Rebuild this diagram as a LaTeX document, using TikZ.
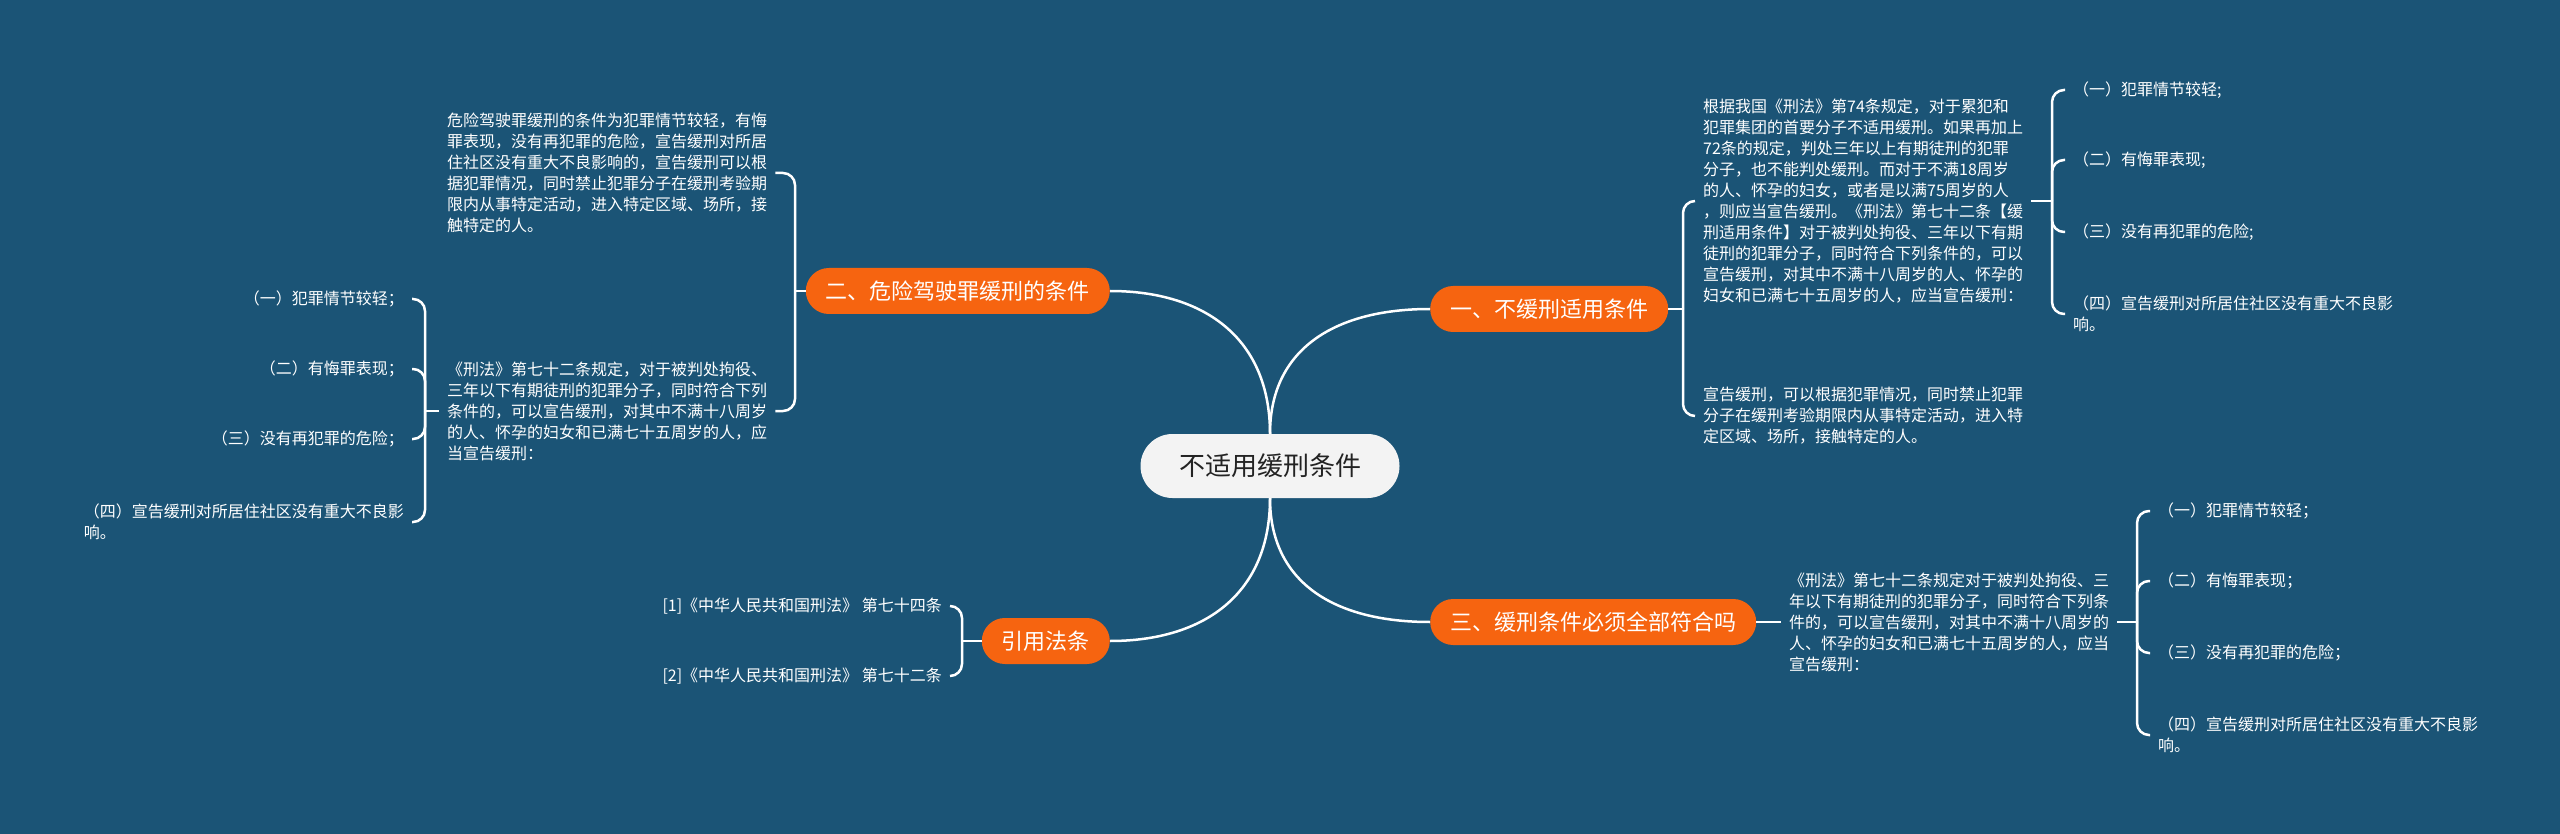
\documentclass[tikz,border=0pt]{standalone}
\usepackage{fontspec}
\setmainfont{Noto Sans CJK SC}
\definecolor{bgcol}{RGB}{27,84,118}
\definecolor{orangenode}{RGB}{246,100,16}
\definecolor{rootfill}{RGB}{243,243,243}
\definecolor{roottext}{RGB}{35,35,35}
\begin{document}
\begin{tikzpicture}[x=1pt,y=-1pt,
  conn/.style={draw=white, line width=2.5pt},
  brace/.style={draw=white, line width=2.5pt, rounded corners=12pt},
  root/.style={fill=rootfill, text=roottext, rounded corners=32pt, minimum height=64pt, minimum width=259pt, inner sep=0pt, font=\fontsize{26}{31}\selectfont},
  branch/.style={fill=orangenode, text=white, rounded corners=23pt, minimum height=46pt, inner xsep=20pt, inner ysep=0pt, font=\fontsize{22}{26}\selectfont},
  leaf/.style={text=white, inner xsep=8pt, inner ysep=0pt, align=left, font=\fontsize{16}{21}\selectfont},
]
\fill[bgcol] (0,0) rectangle (2560,834);
\useasboundingbox (0,0) rectangle (2560,834);

% root and branches
\node[root] (c) at (1270,466) {不适用缓刑条件};
\node[branch, anchor=west] (b1) at (1430,309) {一、不缓刑适用条件};
\node[branch, anchor=east] (b2) at (1110,291) {二、危险驾驶罪缓刑的条件};
\node[branch, anchor=west] (b3) at (1430,622) {三、缓刑条件必须全部符合吗};
\node[branch, anchor=east] (b4) at (1110,641) {引用法条};

\draw[conn] (c.north) .. controls +(0,-85) and +(-95,0) .. (b1.west);
\draw[conn] (c.north) .. controls +(0,-95) and +(95,0) .. (b2.east);
\draw[conn] (c.south) .. controls +(0,85) and +(-95,0) .. (b3.west);
\draw[conn] (c.south) .. controls +(0,95) and +(95,0) .. (b4.east);

% ---------- branch 1 ----------
\node[leaf, anchor=west] (t1) at (1695,201) {根据我国《刑法》第74条规定，对于累犯和\\犯罪集团的首要分子不适用缓刑。如果再加上\\72条的规定，判处三年以上有期徒刑的犯罪\\分子，也不能判处缓刑。而对于不满18周岁\\的人、怀孕的妇女，或者是以满75周岁的人\\，则应当宣告缓刑。《刑法》第七十二条【缓\\刑适用条件】对于被判处拘役、三年以下有期\\徒刑的犯罪分子，同时符合下列条件的，可以\\宣告缓刑，对其中不满十八周岁的人、怀孕的\\妇女和已满七十五周岁的人，应当宣告缓刑：};
\node[leaf, anchor=west] (t2) at (1695,416) {宣告缓刑，可以根据犯罪情况，同时禁止犯罪\\分子在缓刑考验期限内从事特定活动，进入特\\定区域、场所，接触特定的人。};
\coordinate (j1) at (1683,309);
\draw[conn] (b1.east) -- (j1);
\draw[brace] (j1) |- (t1.west);
\draw[brace] (j1) |- (t2.west);

\node[leaf, anchor=west] (i11) at (2065,90) {（一）犯罪情节较轻;};
\node[leaf, anchor=west] (i12) at (2065,160) {（二）有悔罪表现;};
\node[leaf, anchor=west] (i13) at (2065,232) {（三）没有再犯罪的危险;};
\node[leaf, anchor=west] (i14) at (2065,314) {（四）宣告缓刑对所居住社区没有重大不良影\\响。};
\coordinate (j11) at (2052,201);
\draw[conn] (t1.east) -- (j11);
\draw[brace] (j11) |- (i11.west);
\draw[brace] (j11) |- (i12.west);
\draw[brace] (j11) |- (i13.west);
\draw[brace] (j11) |- (i14.west);

% ---------- branch 2 ----------
\node[leaf, anchor=west] (tA) at (439,173) {危险驾驶罪缓刑的条件为犯罪情节较轻，有悔\\罪表现，没有再犯罪的危险，宣告缓刑对所居\\住社区没有重大不良影响的，宣告缓刑可以根\\据犯罪情况，同时禁止犯罪分子在缓刑考验期\\限内从事特定活动，进入特定区域、场所，接\\触特定的人。};
\node[leaf, anchor=west] (tB) at (439,411) {《刑法》第七十二条规定，对于被判处拘役、\\三年以下有期徒刑的犯罪分子，同时符合下列\\条件的，可以宣告缓刑，对其中不满十八周岁\\的人、怀孕的妇女和已满七十五周岁的人，应\\当宣告缓刑：};
\coordinate (j2) at (795,291);
\draw[conn] (b2.west) -- (j2);
\draw[brace] (j2) |- (tA.east);
\draw[brace] (j2) |- (tB.east);

\node[leaf, anchor=east] (iB1) at (412,299) {（一）犯罪情节较轻；};
\node[leaf, anchor=east] (iB2) at (412,369) {（二）有悔罪表现；};
\node[leaf, anchor=east] (iB3) at (412,439) {（三）没有再犯罪的危险；};
\node[leaf, anchor=east] (iB4) at (412,522) {（四）宣告缓刑对所居住社区没有重大不良影\\响。};
\coordinate (j22) at (425,411);
\draw[conn] (tB.west) -- (j22);
\draw[brace] (j22) |- (iB1.east);
\draw[brace] (j22) |- (iB2.east);
\draw[brace] (j22) |- (iB3.east);
\draw[brace] (j22) |- (iB4.east);

% ---------- branch 3 ----------
\node[leaf, anchor=west] (tC) at (1781,622) {《刑法》第七十二条规定对于被判处拘役、三\\年以下有期徒刑的犯罪分子，同时符合下列条\\件的，可以宣告缓刑，对其中不满十八周岁的\\人、怀孕的妇女和已满七十五周岁的人，应当\\宣告缓刑：};
\draw[conn] (b3.east) -- (tC.west);

\node[leaf, anchor=west] (iC1) at (2150,511) {（一）犯罪情节较轻；};
\node[leaf, anchor=west] (iC2) at (2150,581) {（二）有悔罪表现；};
\node[leaf, anchor=west] (iC3) at (2150,653) {（三）没有再犯罪的危险；};
\node[leaf, anchor=west] (iC4) at (2150,735) {（四）宣告缓刑对所居住社区没有重大不良影\\响。};
\coordinate (j3) at (2137,622);
\draw[conn] (tC.east) -- (j3);
\draw[brace] (j3) |- (iC1.west);
\draw[brace] (j3) |- (iC2.west);
\draw[brace] (j3) |- (iC3.west);
\draw[brace] (j3) |- (iC4.west);

% ---------- branch 4 ----------
\node[leaf, anchor=east] (r1) at (950,606) {[1]《中华人民共和国刑法》 第七十四条};
\node[leaf, anchor=east] (r2) at (950,676) {[2]《中华人民共和国刑法》 第七十二条};
\coordinate (j4) at (962,641);
\draw[conn] (b4.west) -- (j4);
\draw[brace] (j4) |- (r1.east);
\draw[brace] (j4) |- (r2.east);
\end{tikzpicture}
\end{document}
